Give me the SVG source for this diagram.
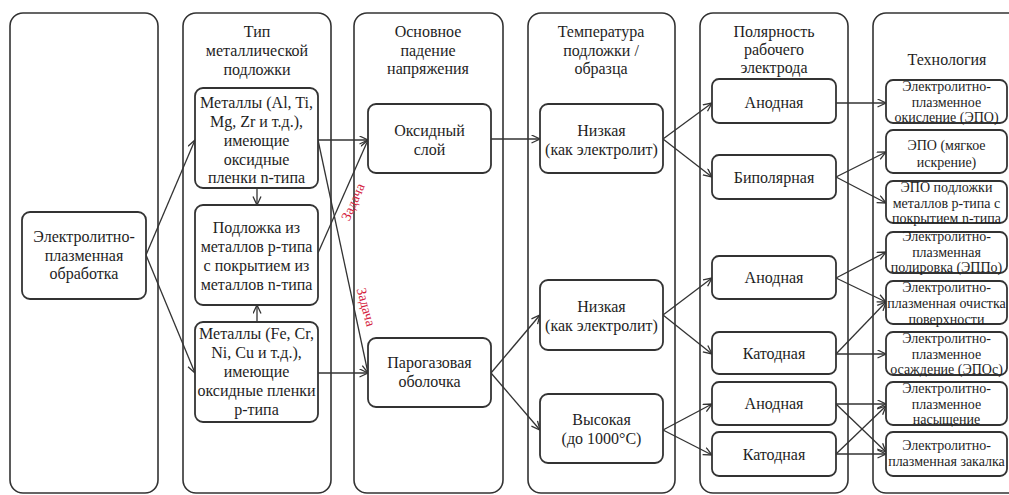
<svg xmlns="http://www.w3.org/2000/svg" width="1009" height="495" viewBox="0 0 1009 495">
  <style>
    .col { fill: #ffffff; stroke: #333333; stroke-width: 1.6; }
    .node { fill: #ffffff; stroke: #333333; stroke-width: 1.8; }
    text { font-family: 'Liberation Serif', 'DejaVu Serif', serif; }
    .t { font-size: 16px; fill: #1e1e1e; text-anchor: middle; }
    .s { font-size: 14px; fill: #1e1e1e; text-anchor: middle; }
    .red { font-size: 14px; fill: #d4213d; text-anchor: middle; dominant-baseline: central; }
    .edge { fill: none; stroke: #333333; stroke-width: 1.3; marker-end: url(#arrow); }
  </style>
  <defs>
    <marker id="arrow" markerUnits="userSpaceOnUse" markerWidth="11" markerHeight="10" refX="9" refY="4.5" orient="auto">
      <path d="M0.5,0.5 L9,4.5 L0.5,8.5" fill="none" stroke="#333333" stroke-width="1.3"/>
    </marker>
  </defs>

  <rect width="1009" height="495" fill="#ffffff"/>

  <!-- column frames -->
  <g id="columns">
    <rect class="col" x="10" y="13" width="148" height="480" rx="13"/>
    <rect class="col" x="183" y="13" width="148" height="480" rx="13"/>
    <rect class="col" x="354" y="13" width="149" height="480" rx="13"/>
    <rect class="col" x="528" y="13" width="147" height="480" rx="13"/>
    <rect class="col" x="700" y="13" width="148" height="480" rx="13"/>
    <rect class="col" x="873" y="13" width="148" height="480" rx="13"/>
  </g>

  <!-- column headings -->
  <g id="headings">
    <text class="t" x="257" y="37">Тип</text>
    <text class="t" x="257" y="56">металлической</text>
    <text class="t" x="257" y="75">подложки</text>
    <text class="t" x="428" y="37">Основное</text>
    <text class="t" x="428" y="56">падение</text>
    <text class="t" x="428" y="74">напряжения</text>
    <text class="t" x="601" y="37">Температура</text>
    <text class="t" x="601" y="56">подложки /</text>
    <text class="t" x="601" y="74">образца</text>
    <text class="t" x="774" y="37">Полярность</text>
    <text class="t" x="774" y="55">рабочего</text>
    <text class="t" x="774" y="73">электрода</text>
    <text class="t" x="947" y="65">Технология</text>
  </g>

  <!-- connectors -->
  <g id="connectors">
    <line class="edge" x1="146" y1="255" x2="195" y2="140"/>
    <line class="edge" x1="146" y1="255" x2="195" y2="373"/>
    <line class="edge" x1="257" y1="188" x2="257" y2="205"/>
    <line class="edge" x1="257" y1="322" x2="257" y2="305"/>
    <line class="edge" x1="318" y1="140" x2="368" y2="140"/>
    <line class="edge" x1="318" y1="140" x2="368" y2="373"/>
    <line class="edge" x1="318" y1="253" x2="368" y2="140"/>
    <line class="edge" x1="318" y1="373" x2="368" y2="373"/>
    <line class="edge" x1="491" y1="139" x2="540" y2="139"/>
    <line class="edge" x1="491" y1="373" x2="540" y2="315"/>
    <line class="edge" x1="491" y1="373" x2="540" y2="430"/>
    <line class="edge" x1="663" y1="139" x2="712" y2="103"/>
    <line class="edge" x1="663" y1="139" x2="712" y2="177"/>
    <line class="edge" x1="663" y1="315" x2="712" y2="278"/>
    <line class="edge" x1="663" y1="315" x2="712" y2="354"/>
    <line class="edge" x1="663" y1="430" x2="712" y2="404"/>
    <line class="edge" x1="663" y1="430" x2="712" y2="455"/>
    <line class="edge" x1="836" y1="103" x2="886" y2="103"/>
    <line class="edge" x1="836" y1="177" x2="886" y2="152"/>
    <line class="edge" x1="836" y1="177" x2="886" y2="203"/>
    <line class="edge" x1="836" y1="278" x2="886" y2="252"/>
    <line class="edge" x1="836" y1="278" x2="886" y2="302"/>
    <line class="edge" x1="836" y1="354" x2="886" y2="302"/>
    <line class="edge" x1="836" y1="354" x2="886" y2="354"/>
    <line class="edge" x1="836" y1="404" x2="886" y2="404"/>
    <line class="edge" x1="836" y1="404" x2="886" y2="452"/>
    <line class="edge" x1="836" y1="454" x2="886" y2="406"/>
    <line class="edge" x1="836" y1="454" x2="886" y2="454"/>
    <text class="red" transform="translate(353,202) rotate(-66)">Задача</text>
    <text class="red" transform="translate(366,307) rotate(75)">Задача</text>
  </g>

  <!-- column 1 -->
  <g id="n-epo">
    <rect class="node" x="22" y="212" width="124" height="87" rx="8"/>
    <text class="t" x="84" y="242">Электролитно-</text>
    <text class="t" x="84" y="261">плазменная</text>
    <text class="t" x="84" y="279">обработка</text>
  </g>

  <!-- column 2 -->
  <g id="n-metal-n">
    <rect class="node" x="195" y="88" width="123" height="100" rx="8"/>
    <text class="t" x="256.5" y="108">Металлы  (Al, Ti,</text>
    <text class="t" x="256.5" y="127">Mg, Zr и т.д.),</text>
    <text class="t" x="256.5" y="146">имеющие</text>
    <text class="t" x="256.5" y="165">оксидные</text>
    <text class="t" x="256.5" y="183">пленки n-типа</text>
  </g>
  <g id="n-metal-pn">
    <rect class="node" x="195" y="205" width="123" height="100" rx="8"/>
    <text class="t" x="256.5" y="233">Подложка из</text>
    <text class="t" x="256.5" y="252">металлов p-типа</text>
    <text class="t" x="256.5" y="271">с покрытием из</text>
    <text class="t" x="256.5" y="290">металлов n-типа</text>
  </g>
  <g id="n-metal-p">
    <rect class="node" x="195" y="322" width="123" height="100" rx="8"/>
    <text class="t" x="256.5" y="339">Металлы  (Fe, Cr,</text>
    <text class="t" x="256.5" y="358">Ni, Cu и т.д.),</text>
    <text class="t" x="256.5" y="377">имеющие</text>
    <text class="t" x="256.5" y="396">оксидные пленки</text>
    <text class="t" x="256.5" y="415">p-типа</text>
  </g>

  <!-- column 3 -->
  <g id="n-oxide">
    <rect class="node" x="368" y="104" width="123" height="69" rx="8"/>
    <text class="t" x="429.5" y="136">Оксидный</text>
    <text class="t" x="429.5" y="155">слой</text>
  </g>
  <g id="n-vapour">
    <rect class="node" x="368" y="338" width="123" height="69" rx="8"/>
    <text class="t" x="429.5" y="368">Парогазовая</text>
    <text class="t" x="429.5" y="387">оболочка</text>
  </g>

  <!-- column 4 -->
  <g id="n-low-1">
    <rect class="node" x="540" y="104" width="123" height="69" rx="8"/>
    <text class="t" x="601.5" y="136">Низкая</text>
    <text class="t" x="601.5" y="155">(как электролит)</text>
  </g>
  <g id="n-low-2">
    <rect class="node" x="540" y="280" width="123" height="70" rx="8"/>
    <text class="t" x="601.5" y="312">Низкая</text>
    <text class="t" x="601.5" y="331">(как электролит)</text>
  </g>
  <g id="n-high">
    <rect class="node" x="540" y="394" width="123" height="69" rx="8"/>
    <text class="t" x="601.5" y="425">Высокая</text>
    <text class="t" x="601.5" y="444">(до 1000°C)</text>
  </g>

  <!-- column 5 -->
  <g id="n-anode-1">
    <rect class="node" x="712" y="79" width="124" height="44" rx="7"/>
    <text class="t" x="774" y="108">Анодная</text>
  </g>
  <g id="n-bipolar">
    <rect class="node" x="712" y="155" width="124" height="44" rx="7"/>
    <text class="t" x="774" y="183">Биполярная</text>
  </g>
  <g id="n-anode-2">
    <rect class="node" x="712" y="256" width="124" height="43" rx="7"/>
    <text class="t" x="774" y="283">Анодная</text>
  </g>
  <g id="n-cathode-1">
    <rect class="node" x="712" y="332" width="124" height="42" rx="7"/>
    <text class="t" x="774" y="359">Катодная</text>
  </g>
  <g id="n-anode-3">
    <rect class="node" x="712" y="382" width="124" height="43" rx="7"/>
    <text class="t" x="774" y="409">Анодная</text>
  </g>
  <g id="n-cathode-2">
    <rect class="node" x="712" y="432" width="124" height="44" rx="7"/>
    <text class="t" x="774" y="460">Катодная</text>
  </g>

  <!-- column 6 -->
  <g id="t-oxidation">
    <rect class="node" x="886" y="80" width="121" height="43" rx="7"/>
    <text class="s" x="946.5" y="91">Электролитно-</text>
    <text class="s" x="946.5" y="107">плазменное</text>
    <text class="s" x="946.5" y="122">окисление (ЭПО)</text>
  </g>
  <g id="t-soft">
    <rect class="node" x="886" y="130" width="121" height="43" rx="7"/>
    <text class="s" x="946.5" y="150">ЭПО (мягкое</text>
    <text class="s" x="946.5" y="167">искрение)</text>
  </g>
  <g id="t-coated">
    <rect class="node" x="886" y="181" width="121" height="42" rx="7"/>
    <text class="s" x="946.5" y="192">ЭПО подложки</text>
    <text class="s" x="946.5" y="208">металлов p-типа с</text>
    <text class="s" x="946.5" y="223">покрытием n-типа</text>
  </g>
  <g id="t-polish">
    <rect class="node" x="886" y="232" width="121" height="41" rx="7"/>
    <text class="s" x="946.5" y="241">Электролитно-</text>
    <text class="s" x="946.5" y="257">плазменная</text>
    <text class="s" x="946.5" y="272">полировка (ЭППо)</text>
  </g>
  <g id="t-clean">
    <rect class="node" x="886" y="281" width="121" height="43" rx="7"/>
    <text class="s" x="946.5" y="292">Электролитно-</text>
    <text class="s" x="946.5" y="308">плазменная очистка</text>
    <text class="s" x="946.5" y="324">поверхности</text>
  </g>
  <g id="t-deposit">
    <rect class="node" x="886" y="332" width="121" height="43" rx="7"/>
    <text class="s" x="946.5" y="343">Электролитно-</text>
    <text class="s" x="946.5" y="359">плазменное</text>
    <text class="s" x="946.5" y="374">осаждение (ЭПОс)</text>
  </g>
  <g id="t-saturate">
    <rect class="node" x="886" y="382" width="121" height="43" rx="7"/>
    <text class="s" x="946.5" y="393">Электролитно-</text>
    <text class="s" x="946.5" y="409">плазменное</text>
    <text class="s" x="946.5" y="424">насыщение</text>
  </g>
  <g id="t-harden">
    <rect class="node" x="886" y="432" width="121" height="44" rx="7"/>
    <text class="s" x="946.5" y="450">Электролитно-</text>
    <text class="s" x="946.5" y="466">плазменная закалка</text>
  </g>
</svg>
